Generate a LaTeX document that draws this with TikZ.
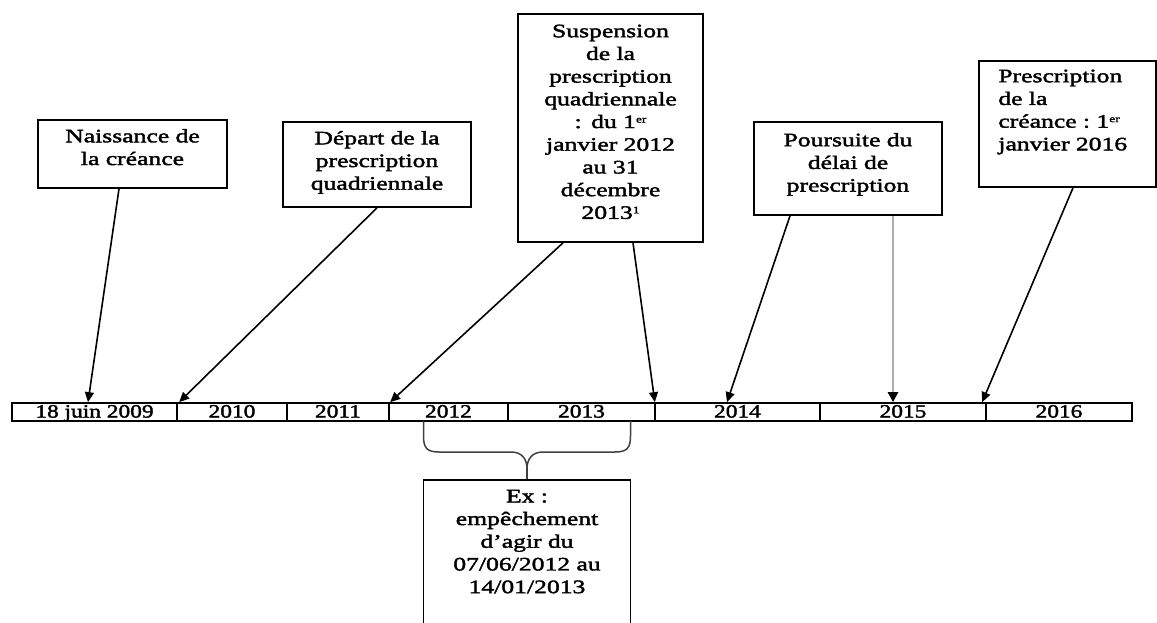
\documentclass[tikz,border=0pt]{standalone}
\usepackage{fontspec}
\setmainfont{Liberation Serif}
\newfontfamily\boxfont[FakeStretch=1.35,FakeBold=2]{Liberation Serif}
\newfontfamily\barfont[FakeStretch=1.25,FakeBold=2]{Liberation Serif}
\usetikzlibrary{arrows.meta}
\newcommand\mysup[1]{\raisebox{5.5pt}{\fontsize{10}{10}\selectfont #1}}
\begin{document}
\begin{tikzpicture}[x=1pt,y=-1pt,
  box/.style={draw, line width=1.7pt, inner sep=0pt, rectangle},
  txt/.style={inner sep=0pt, font=\boxfont\fontsize{19}{22.7}\selectfont, align=center, anchor=north},
  cell/.style={draw, line width=1.7pt, inner sep=0pt, minimum height=18pt, text height=13.5pt, text depth=2.5pt, font=\barfont\fontsize{18.7}{22}\selectfont},
  arr/.style={line width=1.6pt, -{Triangle[length=10pt,width=9pt]}},
  grayarr/.style={line width=2.6pt, draw=black!32, -{Triangle[length=10pt,width=10pt,color=black]}},
  bracestyle/.style={line width=1.5pt, draw=black!75}]
\useasboundingbox (0,0) rectangle (1157,623);
\clip (0,0) rectangle (1157,623);

% timeline cells
\node[cell, minimum width=165pt] (c2009) at (94.5,412) {18 juin 2009};
\node[cell, minimum width=110pt] (c2010) at (232,412) {2010};
\node[cell, minimum width=102pt] (c2011) at (338,412) {2011};
\node[cell, minimum width=119pt] (c2012) at (448.5,412) {2012};
\node[cell, minimum width=147pt] (c2013) at (581.5,412) {2013};
\node[cell, minimum width=165pt] (c2014) at (737.5,412) {2014};
\node[cell, minimum width=166pt] (c2015) at (903,412) {2015};
\node[cell, minimum width=146pt] (c2016) at (1059,412) {2016};

% boxes
\node[box, minimum width=189pt, minimum height=68pt] (naiss) at (132.5,154) {};
\node[txt, text width=180pt] (tnaiss) at ([yshift=-7.1pt]naiss.north) {\strut Naissance de\\la créance};

\node[box, minimum width=188pt, minimum height=85pt] (depart) at (377,164.5) {};
\node[txt, text width=180pt] (tdepart) at ([yshift=-7.1pt]depart.north) {\strut Départ de la\\prescription\\quadriennale};

\node[box, minimum width=185pt, minimum height=228pt] (susp) at (610.5,128) {};
\node[txt, text width=178pt] (tsusp) at ([yshift=-8pt]susp.north) {\strut Suspension\\de la\\prescription\\quadriennale\\: du 1\mysup{er}\\janvier 2012\\au 31\\décembre\\2013\mysup{1}};

\node[box, minimum width=188pt, minimum height=93pt] (pours) at (848,168.5) {};
\node[txt, text width=180pt] (tpours) at ([yshift=-9pt]pours.north) {\strut Poursuite du\\délai de\\prescription};

\node[box, minimum width=177pt, minimum height=126pt] (presc) at (1067.5,124) {};
\node[txt, text width=155pt, align=left, anchor=north west] (tpresc) at ([xshift=20pt,yshift=-6pt]presc.north west) {\strut Prescription\\de la\\créance :~1\mysup{er}\\janvier 2016};

\node[box, minimum width=207pt, minimum height=170pt] (ex) at (527,565) {};
\node[txt, text width=200pt] (tex) at ([yshift=-7.1pt]ex.north) {\strut Ex :\\empêchement\\d’agir du\\07/06/2012 au\\14/01/2013};

% arrows
\draw[arr] ([xshift=-13.5pt]naiss.south) -- ([xshift=-6.5pt]c2009.north);
\draw[arr] (depart.south) -- ([xshift=3pt]c2010.north west);
\draw[arr] ([xshift=-47.5pt]susp.south) -- ([xshift=2pt]c2012.north west);
\draw[arr] ([xshift=22.5pt]susp.south) -- ([xshift=-1pt]c2013.north east);
\draw[arr] ([xshift=-58pt]pours.south) -- ([xshift=-10.5pt]c2014.north);
\draw[grayarr] ([xshift=45pt]pours.south) -- ([xshift=-10pt]c2015.north);
\draw[arr] ([xshift=5.5pt]presc.south) -- ([xshift=-3pt]c2016.north west);

% brace
\coordinate (bl) at (423.5,421);
\coordinate (br) at (630.5,421);
\coordinate (btip) at (527,469);
\draw[bracestyle] (bl) -- (423.5,436) .. controls (423.5,448) and (427,452) .. (439,452) -- (511,452) .. controls (522,452) and (527,459) .. (btip) .. controls (527,459) and (532,452) .. (543,452) -- (615,452) .. controls (627,452) and (630.5,448) .. (630.5,436) -- (br);
\draw[bracestyle] (btip) -- (ex.north);
\end{tikzpicture}
\end{document}
